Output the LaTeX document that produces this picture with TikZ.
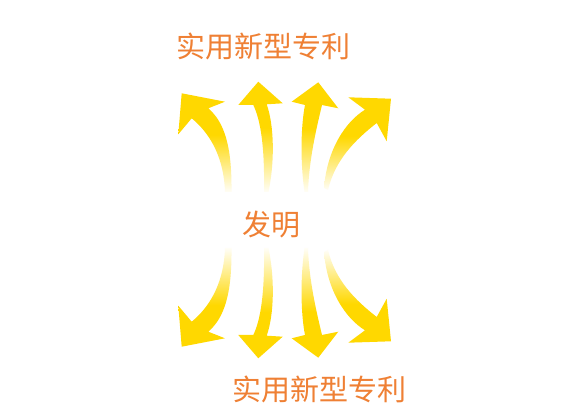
\documentclass[tikz,border=0pt]{standalone}
\usepackage{fontspec}
\newfontfamily\cjk{Noto Sans CJK SC}
\definecolor{ay}{RGB}{255,216,0}
\definecolor{txtorange}{RGB}{239,128,52}
\pgfdeclareverticalshading{fadetop}{100bp}{color(0bp)=(white); color(24bp)=(white); color(54bp)=(ay); color(100bp)=(ay)}
\pgfdeclareverticalshading{fadebottom}{100bp}{color(0bp)=(ay); color(46bp)=(ay); color(76bp)=(white); color(100bp)=(white)}
\tikzset{
  lbl/.style={font=\cjk\fontsize{29}{32}\selectfont, text=txtorange, inner sep=0pt, anchor=base},
}
\newcommand{\arrowone}{(181.7,93.3) -- (225,101.7) -- (208.3,108.3) .. controls (224,122) and (232,145) .. (231.5,192) -- (225,192) .. controls (224,160) and (212,135) .. (191.7,118.3) -- (178.3,134.3) -- cycle}
\newcommand{\arrowtwo}{(258.3,81.7) -- (282.7,103.3) -- (266.7,104.3) .. controls (274,125) and (275,160) .. (268.5,192) -- (264,192) .. controls (264.5,160) and (263,125) .. (253.3,105) -- (238.3,105) -- cycle}
\newcommand{\arrowthree}{(318.3,82.3) -- (338.3,108.3) -- (322,105) .. controls (316,130) and (309,160) .. (308,192) -- (304.5,192) .. controls (300,160) and (301,125) .. (305,105) -- (291.7,101.7) -- cycle}
\newcommand{\arrowfour}{(391,98.7) -- (386.7,141.3) -- (376.7,123) .. controls (355,140) and (335,160) .. (328,190) -- (324,188) .. controls (327,150) and (345,122) .. (365,109.7) -- (348.3,97.3) -- cycle}
\begin{document}
\begin{tikzpicture}[x=1pt,y=-1pt]
\useasboundingbox[fill=white] (0,0) rectangle (563,414);
% top arrows
\shade[shading=fadetop] \arrowone;
\shade[shading=fadetop] \arrowtwo;
\shade[shading=fadetop] \arrowthree;
\shade[shading=fadetop] \arrowfour;
% bottom arrows (mirror about y=220)
\begin{scope}[shift={(0,440)}, yscale=-1]
\shade[shading=fadebottom] \arrowone;
\shade[shading=fadebottom] \arrowtwo;
\shade[shading=fadebottom] \arrowthree;
\shade[shading=fadebottom] \arrowfour;
\end{scope}
\node[lbl] (top) at (263.5,58) {实用新型专利};
\node[lbl] (mid) at (271.5,235.7) {发明};
\node[lbl] (bot) at (319,400.5) {实用新型专利};
\end{tikzpicture}
\end{document}
